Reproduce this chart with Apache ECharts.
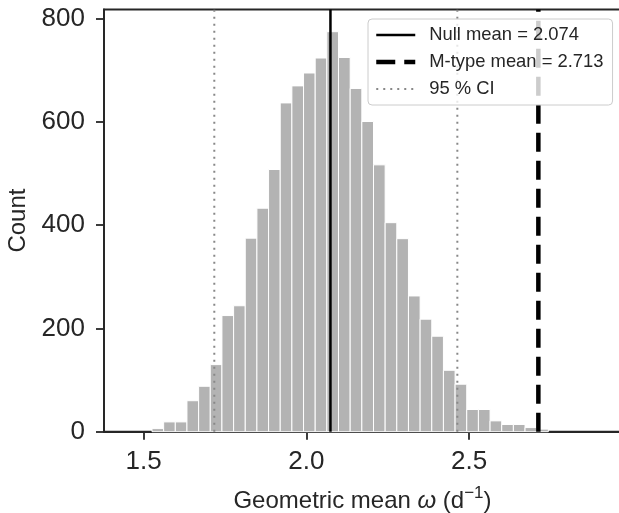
<!DOCTYPE html>
<html>
<head>
<meta charset="utf-8">
<script src="https://cdn.jsdelivr.net/npm/echarts@6/dist/echarts.min.js"></script>
<style>
html,body{margin:0;padding:0;background:#fff;}
#chart{width:619px;height:513px;}
</style>
</head>
<body>
<div id="chart"></div>
<script>
// ---- data ----
const binStart = 1.5255;
const binWidth = 0.03583;
const counts = [6, 19, 19, 60, 88, 130, 225, 244, 375, 433, 508, 637, 670, 695, 724, 775,
                725, 665, 601, 517, 405, 374, 263, 218, 185, 119, 92, 43, 43, 21, 14, 14, 8, 5];
const nullMean = 2.074;
const mTypeMean = 2.713;
const ciLow = 1.717;
const ciHigh = 2.464;
const xTicks = [1.5, 2.0, 2.5];
const yTicks = [0, 200, 400, 600, 800];
const xMin = 1.378, xMax = 2.967;
const yMin = 0, yMax = 818;
const legendNames = ['Null mean = 2.074', 'M-type mean = 2.713', '95 % CI'];

const FONT = '"Liberation Sans", Arial, sans-serif';
const INK = '#262626';

const histData = counts.map((c, i) => [binStart + i * binWidth, binStart + (i + 1) * binWidth, c]);

const chart = echarts.init(document.getElementById('chart'), null, {renderer: 'canvas'});
chart.setOption({
  animation: false,
  backgroundColor: '#ffffff',
  grid: {
    left: 104, top: 9.5, width: 517, height: 422.2,
    outerBoundsMode: 'none', containLabel: false,
    show: true, borderColor: INK, borderWidth: 1.8, backgroundColor: 'transparent'
  },
  legend: {
    data: legendNames,
    orient: 'vertical',
    left: 368, top: 19,
    itemWidth: 39, itemHeight: 14, itemGap: 9,
    padding: [7, 9, 7, 6],
    backgroundColor: 'rgba(255,255,255,0.8)',
    borderColor: '#cccccc', borderWidth: 1, borderRadius: 4,
    textStyle: {fontFamily: FONT, fontSize: 18.4, color: INK, lineHeight: 18, padding: [0, 0, 0, 9]},
    itemStyle: {opacity: 0},
    lineStyle: {width: 'inherit', type: 'inherit', color: 'inherit'},
    selectedMode: false
  },
  xAxis: {
    type: 'value', min: xMin, max: xMax,
    name: '{t|Geometric mean }{w|ω}{t| (d}{s|−1}{t|)}',
    nameLocation: 'middle', nameGap: 53,
    nameTextStyle: {
      rich: {
        t: {fontFamily: FONT, fontSize: 24, color: INK, lineHeight: 34},
        w: {fontFamily: FONT, fontSize: 24, color: INK, fontStyle: 'italic', lineHeight: 34},
        s: {fontFamily: FONT, fontSize: 17, color: INK, verticalAlign: 'top'}
      }
    },
    axisLine: {show: true, onZero: false, lineStyle: {color: INK, width: 1.8}},
    axisTick: {show: true, length: 8, lineStyle: {color: INK, width: 1.8}, customValues: xTicks},
    axisLabel: {customValues: xTicks, formatter: v => v.toFixed(1), fontFamily: FONT, fontSize: 26,
                color: INK, margin: 17, lineHeight: 26},
    splitLine: {show: false}
  },
  yAxis: {
    type: 'value', min: yMin, max: yMax,
    name: 'Count', nameLocation: 'middle', nameGap: 73,
    nameTextStyle: {fontFamily: FONT, fontSize: 24, color: INK, lineHeight: 24},
    axisLine: {show: true, lineStyle: {color: INK, width: 1.8}},
    axisTick: {show: true, length: 8, lineStyle: {color: INK, width: 1.8}, customValues: yTicks},
    axisLabel: {customValues: yTicks, fontFamily: FONT, fontSize: 26, color: INK, margin: 19},
    splitLine: {show: false}
  },
  series: [
    {
      type: 'custom', name: 'hist', data: histData, encode: {x: [0, 1], y: 2}, z: 1,
      renderItem: function (params, api) {
        const p0 = api.coord([api.value(0), api.value(2)]);
        const p1 = api.coord([api.value(1), 0]);
        return {type: 'rect', shape: {x: p0[0], y: p0[1], width: p1[0] - p0[0], height: p1[1] - p0[1]},
                style: {fill: '#b3b3b3', stroke: '#ffffff', lineWidth: 1}};
      }
    },
    {
      type: 'line', name: legendNames[2], data: [[ciLow, yMin], [ciLow, yMax]], symbol: 'none', z: 3,
      lineStyle: {color: '#888888', width: 2, type: [2, 5]}, itemStyle: {color: '#888888'}
    },
    {
      type: 'line', name: legendNames[2], data: [[ciHigh, yMin], [ciHigh, yMax]], symbol: 'none', z: 3,
      lineStyle: {color: '#888888', width: 2, type: [2, 5]}, itemStyle: {color: '#888888'}
    },
    {
      type: 'line', name: legendNames[0], data: [[nullMean, yMin], [nullMean, yMax]], symbol: 'none', z: 3,
      lineStyle: {color: '#000000', width: 2.5, type: 'solid'}, itemStyle: {color: '#000000'}
    },
    {
      type: 'line', name: legendNames[1], data: [[mTypeMean, yMin], [mTypeMean, yMax]], symbol: 'none', z: 3,
      lineStyle: {color: '#000000', width: 4.5, type: [19, 9]}, itemStyle: {color: '#000000'}
    }
  ]
});
</script>
</body>
</html>
